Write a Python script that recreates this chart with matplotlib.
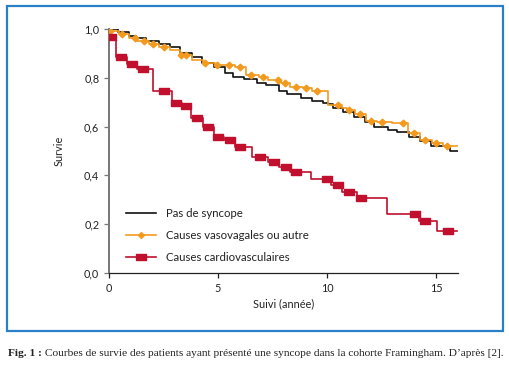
import numpy as np
import matplotlib
matplotlib.use("Agg")
import matplotlib.pyplot as plt
from matplotlib.patches import Rectangle

# ---------------- data ----------------
# Pas de syncope (black)
black_t = [0, 0.4, 0.9, 1.25, 1.7, 2.3, 2.8, 3.25, 3.8, 4.25, 4.8, 5.3, 5.7, 6.2, 6.77, 7.2,
           7.8, 8.18, 8.8, 9.3, 9.8, 10.06, 10.29, 10.75, 11.24, 11.74, 12.16, 12.8, 13.19,
           13.77, 14.27, 14.77, 15.64]
black_s = [1.0, 0.989, 0.971, 0.962, 0.952, 0.939, 0.925, 0.9, 0.884, 0.862, 0.843, 0.818,
           0.802, 0.794, 0.777, 0.77, 0.747, 0.734, 0.718, 0.706, 0.698, 0.693, 0.677, 0.66,
           0.638, 0.62, 0.597, 0.586, 0.577, 0.559, 0.542, 0.52, 0.501]
black_end = 16.0

# Causes vasovagales ou autre (orange)
orange_t = [0, 0.45, 0.9, 1.3, 1.85, 2.3, 2.8, 3.25, 3.8, 4.3, 4.85, 5.8, 6.3, 6.9, 7.3, 7.9,
            8.3, 8.9, 9.3, 10.05, 10.7, 10.9, 11.3, 11.8, 12.3, 13.0, 13.7, 14.25, 14.8, 15.3]
orange_s = [0.99, 0.978, 0.962, 0.95, 0.939, 0.927, 0.914, 0.892, 0.874, 0.862, 0.852, 0.843,
            0.811, 0.802, 0.791, 0.777, 0.761, 0.757, 0.747, 0.689, 0.677, 0.668, 0.652, 0.625,
            0.62, 0.613, 0.575, 0.545, 0.534, 0.52]
orange_end = 16.0
orange_marks = [0.05, 0.6, 1.2, 1.6, 2.0, 2.5, 3.3, 3.55, 4.4, 4.97, 5.5, 6.0, 6.5, 7.05, 7.75,
                8.07, 8.58, 9.04, 9.52, 10.5, 11.0, 11.5, 12.0, 12.5, 13.5, 14.0, 14.5, 15.0, 15.5]

# Causes cardiovasculaires (red)
red_t = [0, 0.32, 0.84, 1.3, 2.0, 2.9, 3.33, 3.78, 4.33, 4.82, 5.27, 5.78, 6.56, 7.28, 7.78,
         8.3, 9.25, 10.2, 10.67, 11.36, 12.74, 14.24, 15.03]
red_s = [0.967, 0.886, 0.857, 0.835, 0.747, 0.698, 0.683, 0.637, 0.598, 0.559, 0.546, 0.518,
         0.477, 0.456, 0.436, 0.414, 0.387, 0.359, 0.333, 0.306, 0.24, 0.214, 0.171]
red_end = 15.98
red_marks = [0.1, 0.56, 1.05, 1.57, 2.54, 3.09, 3.52, 4.02, 4.56, 5.01, 5.55, 6.01, 6.93, 7.57,
             8.1, 8.57, 9.98, 10.52, 11.01, 11.54, 14.02, 14.48, 15.53]

labels = ["Pas de syncope", "Causes vasovagales ou autre", "Causes cardiovasculaires"]
x_ticks = [0, 5, 10, 15]
y_ticks = [0.0, 0.2, 0.4, 0.6, 0.8, 1.0]
y_ticklabels = ["0,0", "0,2", "0,4", "0,6", "0,8", "1,0"]
caption_bold = "Fig. 1 :"
caption_rest = " Courbes de survie des patients ayant présenté une syncope dans la cohorte Framingham. D’après [2]."

# ---------------- styling ----------------
W, H = 509, 365
plt.rcParams['font.family'] = ['Lato', 'DejaVu Sans']
fig = plt.figure(figsize=(W / 100, H / 100), dpi=100)
fig.patch.set_facecolor('white')

ax = fig.add_axes([109 / W, 1 - 273 / H, (457.8 - 109) / W, (273 - 29) / H])

C_BLACK = '#111111'
C_ORANGE = '#f39a1e'
C_RED = '#c0102e'
rect_marker = [(-1.6, -1), (1.6, -1), (1.6, 1), (-1.6, 1), (-1.6, -1)]


def stepxy(t, s, end):
    return np.append(t, end), np.append(s, s[-1])


def lookup(t, s, q):
    idx = np.searchsorted(np.asarray(t), np.asarray(q), side='right') - 1
    return np.asarray(s)[idx]


bx, by = stepxy(black_t, black_s, black_end)
ox, oy = stepxy(orange_t, orange_s, orange_end)
rx, ry = stepxy(red_t, red_s, red_end)

ax.step(bx, by, where='post', color=C_BLACK, lw=1.2, zorder=3)
ax.step(ox, oy, where='post', color=C_ORANGE, lw=1.2, zorder=4)
ax.plot(orange_marks, lookup(orange_t, orange_s, orange_marks), ls='none', marker='D',
        ms=3.4, color=C_ORANGE, zorder=5)
ax.step(rx, ry, where='post', color=C_RED, lw=1.2, zorder=4)
ax.plot(red_marks, lookup(red_t, red_s, red_marks), ls='none', marker=rect_marker,
        ms=7.5, color=C_RED, zorder=5)

# legend proxies
h1, = ax.plot([], [], color=C_BLACK, lw=1.2)
h2, = ax.plot([], [], color=C_ORANGE, lw=1.2, marker='D', ms=3.0)
h3, = ax.plot([], [], color=C_RED, lw=1.2, marker=rect_marker, ms=7)
leg = ax.legend([h1, h2, h3], labels, loc='lower left', bbox_to_anchor=(0.018, 0.0),
                frameon=False, fontsize=8.2, handlelength=2.7, handletextpad=0.85,
                labelspacing=0.95, numpoints=1)
for txt in leg.get_texts():
    txt.set_color('#222222')

ax.set_xlim(0, 16)
ax.set_ylim(0, 1.0)
ax.set_xticks(x_ticks)
ax.set_xticklabels([str(v) for v in x_ticks])
ax.set_yticks(y_ticks)
ax.set_yticklabels(y_ticklabels)
ax.tick_params(axis='both', labelsize=7.8, length=3.5, width=0.9, direction='out',
               colors='#222222')
ax.tick_params(axis='y', color='#777777')
ax.tick_params(axis='x', color='#222222')
ax.spines['top'].set_visible(False)
ax.spines['right'].set_visible(False)
ax.spines['left'].set_color('#777777')
ax.spines['left'].set_linewidth(1.4)
ax.spines['bottom'].set_color('#222222')
ax.spines['bottom'].set_linewidth(0.9)
ax.set_xlabel("Suivi (année)", fontsize=7.8, labelpad=3, color='#222222')
ax.set_ylabel("Survie", fontsize=7.8, labelpad=14, color='#222222')

# frame
fig.patches.append(Rectangle((7 / W, 1 - 331 / H), (503 - 7) / W, (331 - 6) / H,
                             transform=fig.transFigure, fill=False,
                             edgecolor='#2a80c8', lw=1.6))

# caption
serif = ['Liberation Serif', 'DejaVu Serif']
cap_fs = 8.2
t1 = fig.text(8 / W, 1 - 356 / H, caption_bold, fontsize=cap_fs, fontweight='bold',
              family=serif, color='#222222')
fig.canvas.draw()
r = fig.canvas.get_renderer()
bb = t1.get_window_extent(r)
fig.text(bb.x1 / W, 1 - 356 / H, caption_rest, fontsize=cap_fs, family=serif, color='#222222')

fig.savefig('out.png', dpi=100)
